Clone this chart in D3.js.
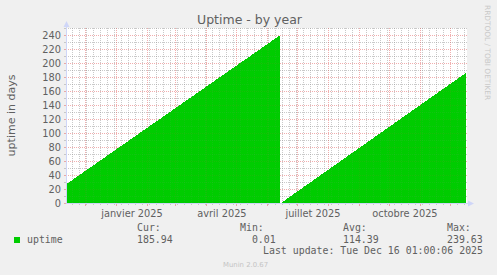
<!DOCTYPE html>
<html><head><meta charset="utf-8">
<script src="https://cdn.jsdelivr.net/npm/d3@7"></script>
<style>html,body{margin:0;padding:0;background:#F0F0F0;overflow:hidden}</style>
</head><body><svg id="c" width="497" height="275"></svg>
<script>
// ---- data ----
const title = "Uptime - by year";
const yLabel = "uptime in days";
const seriesName = "uptime";
const startTime = "2024-11-11T01:00:06";
const endTime = "2025-12-16T01:00:06";
// breakpoints of the uptime series (null = reboot gap)
const dates = ["2024-11-11T01:00:06", "2025-06-13T01:00:00", "2025-06-13T13:00:00", "2025-06-14T01:00:00", "2025-12-16T01:00:06"];
const values = [26.6, 239.63, null, 0.01, 185.94];
const yTicks = [0, 20, 40, 60, 80, 100, 120, 140, 160, 180, 200, 220, 240];
const yMinorTicks = [10, 30, 50, 70, 90, 110, 130, 150, 170, 190, 210, 230, 250];
const xLabelMonths = ["2025-01-01", "2025-04-01", "2025-07-01", "2025-10-01"];
const xLabels = ["janvier 2025", "avril 2025", "juillet 2025", "octobre 2025"];
const legendHeads = ["Cur:", "Min:", "Avg:", "Max:"];
const legendValues = ["185.94", "  0.01", "114.39", "239.63"];
const lastUpdate = "Last update: Tue Dec 16 01:00:06 2025";
const footer = "Munin 2.0.67";
const watermark = "RRDTOOL / TOBI OETIKER";

// ---- drawing ----
const P = d3.utcParse("%Y-%m-%dT%H:%M:%S");
const PD = d3.utcParse("%Y-%m-%d");
const t0 = P(startTime), t1 = P(endTime);
const L = 66, R = 466, T = 28, B = 203;
const x = d3.scaleUtc().domain([t0, t1]).range([L, R]);
const y = d3.scaleLinear().domain([0, 250]).range([B, T]);
const svg = d3.select("#c");
const FONT = "DejaVu Sans", MONO = "DejaVu Sans Mono", TXT = "#606060";
const px = v => Math.floor(v + 1e-6) + 0.5;

svg.append("rect").attr("width", 497).attr("height", 275).attr("fill", "#F0F0F0");
svg.append("rect").attr("x", L).attr("y", T).attr("width", R - L + 1).attr("height", B - T).attr("fill", "#fff");

const months = d3.utcMonth.range(d3.utcMonth.ceil(t0), t1);
const monthCols = new Set(months.map(m => Math.floor(x(m) + 1e-6)));
const weeks = d3.utcMonday.range(d3.utcMonday.ceil(t0), t1).filter(w => !monthCols.has(Math.floor(x(w) + 1e-6)));

function grid(alphaMinor, alphaMajor) {
  const GRID = `rgba(143,143,143,${alphaMinor})`, MGRID = `rgba(222,79,79,${alphaMajor})`;
  const g = svg.append("g").attr("stroke-width", 1).attr("stroke-dasharray", "1,1").attr("shape-rendering", "crispEdges");
  yMinorTicks.forEach(v => g.append("line").attr("x1", L).attr("x2", R + 2).attr("y1", px(y(v))).attr("y2", px(y(v))).attr("stroke", GRID));
  yTicks.filter(v => v > 0).forEach(v => g.append("line").attr("x1", L).attr("x2", R + 2).attr("y1", px(y(v))).attr("y2", px(y(v))).attr("stroke", MGRID));
  weeks.forEach(w => g.append("line").attr("x1", px(x(w))).attr("x2", px(x(w))).attr("y1", T).attr("y2", B).attr("stroke", GRID));
  months.forEach(m => g.append("line").attr("x1", px(x(m))).attr("x2", px(x(m))).attr("y1", T).attr("y2", B).attr("stroke", MGRID));
}
grid(0.42, 0.4);

const data = dates.map((d, i) => ({t: P(d), v: values[i]}));
svg.append("path").datum(data)
  .attr("d", d3.area().defined(d => d.v != null).x(d => x(d.t)).y0(y(0)).y1(d => y(d.v)))
  .attr("fill", "#00CC00").attr("shape-rendering", "crispEdges");

grid(0.1, 0.1);

// ticks outside
const GRID = "rgba(143,143,143,0.42)", MGRID = "rgba(222,79,79,0.45)";
const tk = svg.append("g").attr("shape-rendering", "crispEdges");
weeks.forEach(w => tk.append("line").attr("x1", px(x(w))).attr("x2", px(x(w))).attr("y1", B).attr("y2", B + 2).attr("stroke", GRID));
months.forEach(m => tk.append("line").attr("x1", px(x(m))).attr("x2", px(x(m))).attr("y1", B).attr("y2", B + 3).attr("stroke", MGRID));
yMinorTicks.forEach(v => tk.append("line").attr("x1", L - 2).attr("x2", L).attr("y1", px(y(v))).attr("y2", px(y(v))).attr("stroke", GRID));
yTicks.forEach(v => tk.append("line").attr("x1", L - 2).attr("x2", L).attr("y1", px(y(v))).attr("y2", px(y(v))).attr("stroke", MGRID));

// axes + arrows
const AX = "#CFD6F8";
svg.append("line").attr("x1", L + 0.5).attr("x2", L + 0.5).attr("y1", B + 1).attr("y2", T - 6).attr("stroke", AX);
svg.append("line").attr("x1", L).attr("x2", R + 3).attr("y1", B + 0.5).attr("y2", B + 0.5).attr("stroke", AX);
svg.append("path").attr("d", `M${L - 2.5},${T - 1}L${L + 3.5},${T - 1}L${L + 0.5},${T - 7}Z`).attr("fill", AX);
svg.append("path").attr("d", `M${R + 2},${B - 2.5}L${R + 2},${B + 3.5}L${R + 8},${B + 0.5}Z`).attr("fill", AX);

// y tick labels
yTicks.forEach(v => svg.append("text").attr("x", 61).attr("y", y(v) + 3.6).attr("text-anchor", "end")
  .attr("font-family", FONT).attr("font-size", 9.8).attr("fill", TXT).text(v));
// x labels (rrdtool centres them half a month after the tick)
xLabelMonths.forEach((m, i) => svg.append("text").attr("x", x(d3.utcDay.offset(PD(m), 15))).attr("y", 216.5)
  .attr("text-anchor", "middle").attr("font-family", FONT).attr("font-size", 9.8).attr("fill", TXT).text(xLabels[i]));

// title & y label
svg.append("text").attr("x", 249.5).attr("y", 24).attr("text-anchor", "middle").attr("font-family", FONT)
  .attr("font-size", 12.5).attr("fill", TXT).text(title);
svg.append("text").attr("transform", `translate(14.5,${(T + B) / 2}) rotate(-90)`).attr("text-anchor", "middle")
  .attr("font-family", FONT).attr("font-size", 11).attr("fill", TXT).text(yLabel);

// legend
svg.append("rect").attr("x", 14).attr("y", 237).attr("width", 6).attr("height", 6).attr("fill", "#00CC00");
svg.append("text").attr("x", 27).attr("y", 243).attr("font-family", MONO).attr("font-size", 9.9).attr("fill", TXT).text(seriesName);
const cols = [137, 240, 343, 447];
legendHeads.forEach((h, i) => {
  svg.append("text").attr("x", cols[i]).attr("y", 231).attr("font-family", MONO).attr("font-size", 9.9).attr("fill", TXT).text(h);
  svg.append("text").attr("x", cols[i]).attr("y", 243).attr("font-family", MONO).attr("font-size", 9.9).attr("fill", TXT)
    .style("white-space", "pre").text(legendValues[i]);
});
svg.append("text").attr("x", 483).attr("y", 254).attr("text-anchor", "end").attr("font-family", MONO).attr("font-size", 9.9)
  .attr("fill", TXT).style("white-space", "pre").text(lastUpdate);
svg.append("text").attr("x", 223).attr("y", 267).attr("font-family", FONT).attr("font-size", 6.9).attr("fill", "#C4C4C4").text(footer);
svg.append("text").attr("transform", "translate(485,5) rotate(90)").attr("font-family", FONT).attr("font-size", 7.4)
  .attr("fill", "#C8C8C8").text(watermark);
</script></body></html>
